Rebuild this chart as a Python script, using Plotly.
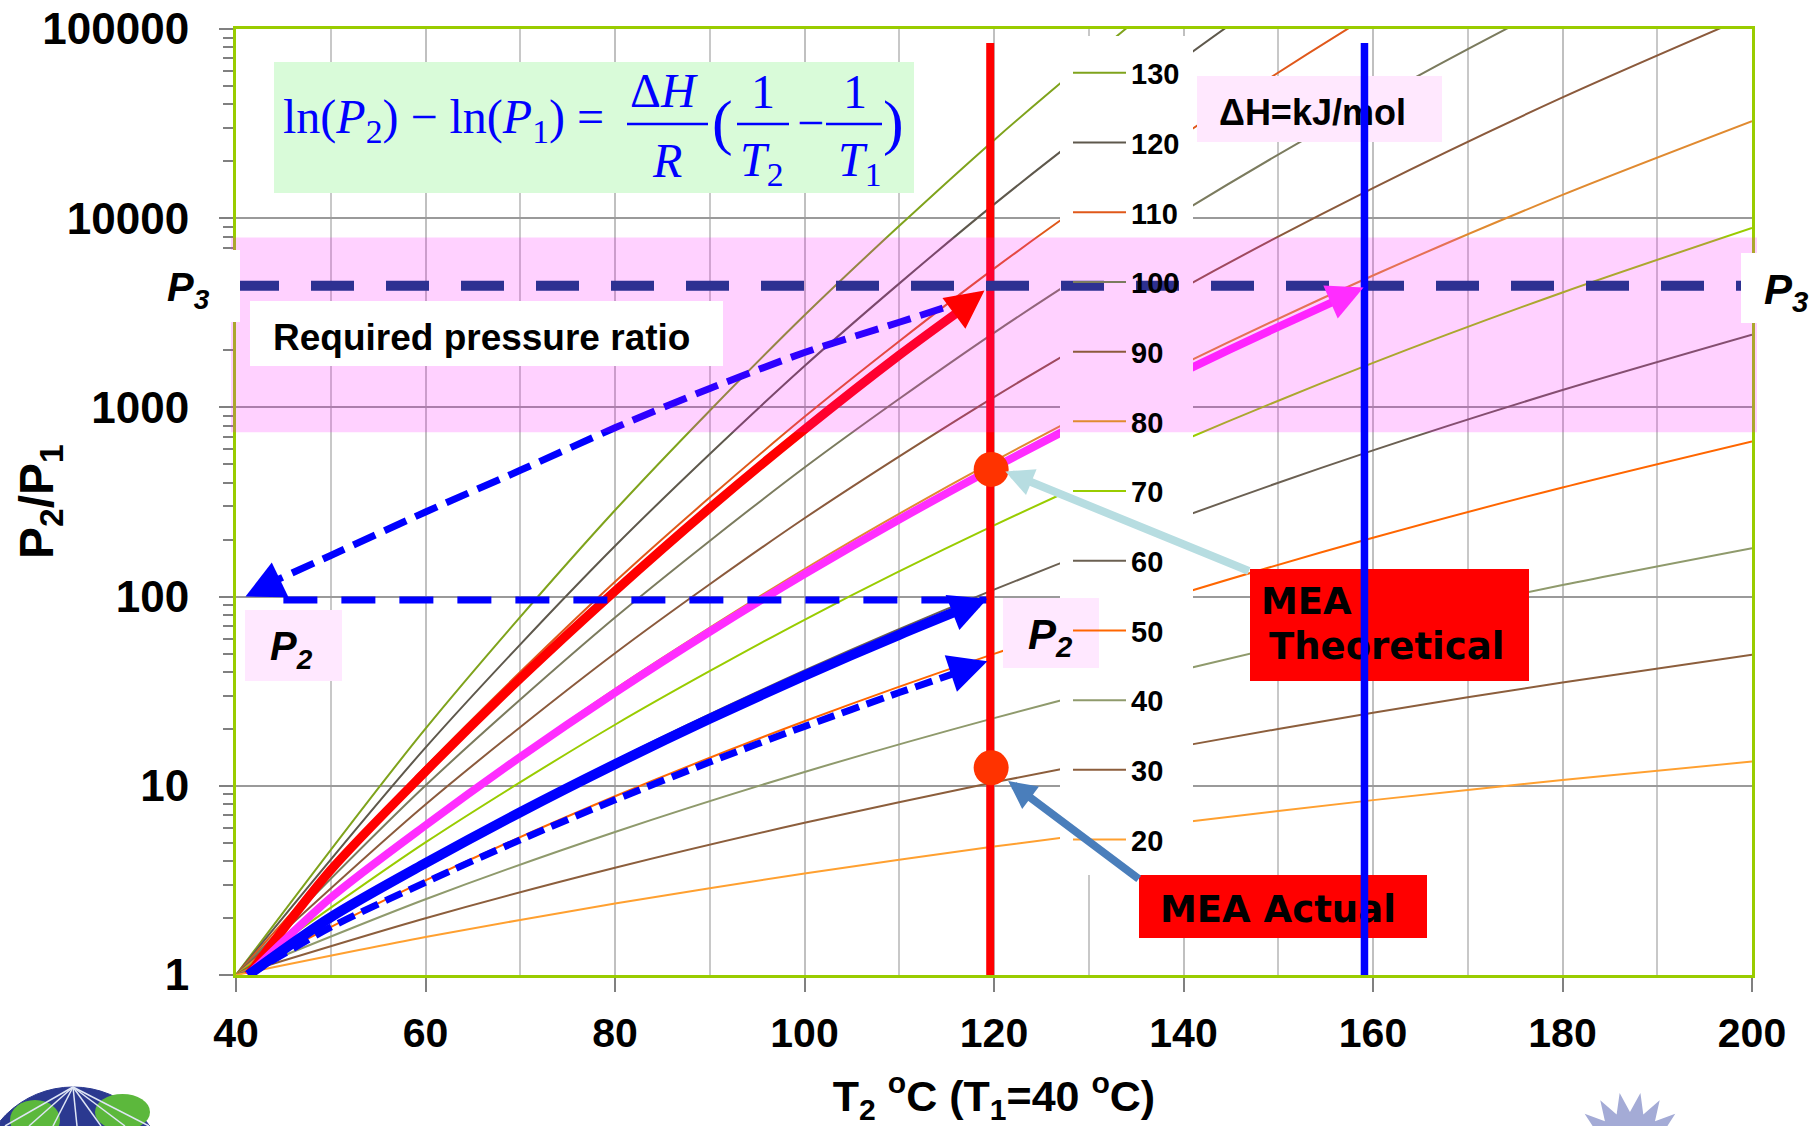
import math
import plotly.graph_objects as go

# ---------------- data ----------------
T_GRID = [40, 60, 80, 100, 120, 140, 160, 180, 200]  # T2 in degC (T1 = 40 degC)

DH_NAMES = ["130", "120", "110", "100", "90", "80", "70", "60", "50", "40", "30", "20"]
DH_130 = [1, 20.04, 285.9, 3068, 25856, 177400, 1018000, 5008000, 21530000]
DH_120 = [1, 15.91, 185.1, 1654, 11834, 69984, 351200, 1529000, 5875000]
DH_110 = [1, 12.63, 119.8, 892.1, 5416, 27618, 121170, 466700, 1603000]
DH_100 = [1, 10.03, 77.52, 481.2, 2479, 10901, 41812, 142430, 437320]
DH_90 = [1, 7.965, 50.17, 259.4, 1134, 4302, 14428, 43475, 119306]
DH_80 = [1, 6.325, 32.47, 139.9, 519.4, 1698, 4977, 13272, 32557]
DH_70 = [1, 5.023, 21.02, 75.43, 237.7, 670.3, 1718, 4051, 8882]
DH_60 = [1, 3.989, 13.60, 40.68, 108.8, 264.5, 592.7, 1236, 2424]
DH_50 = [1, 3.167, 8.805, 21.93, 49.80, 104.4, 204.5, 377.5, 661.4]
DH_40 = [1, 2.515, 5.698, 11.83, 22.79, 41.21, 70.55, 115.2, 180.4]
DH_30 = [1, 1.997, 3.688, 6.377, 10.43, 16.26, 24.34, 35.16, 49.23]
DH_20 = [1, 1.586, 2.387, 3.440, 4.774, 6.42, 8.40, 10.73, 13.43]

# thick arrows
RED_T = [41.3, 50, 60, 70, 80, 90, 100, 110, 117.5]
RED_P = [1, 3.59, 11.9, 36.9, 107, 294, 764, 1889, 3560]
RED_TIP = (119, 4150)
MAG_T = [41.3, 50, 60, 70, 80, 90, 100, 110, 120, 130, 140, 150, 157]
MAG_P = [1, 2.56, 6.18, 14.2, 31.1, 65.2, 131.5, 255.6, 480, 875, 1547, 2666, 3850]
MAG_TIP = (159, 4300)
BLUE_T = [41.3, 50, 60, 70, 80, 90, 100, 110, 117.5]
BLUE_P = [1, 2.02, 3.90, 7.25, 13.0, 22.6, 38.2, 62.8, 89.5]
BLUE_TIP = (119.3, 97.5)
BDASH_T = [41.3, 50, 60, 70, 80, 90, 100, 110, 117.5]
BDASH_P = [1, 1.79, 3.09, 5.18, 8.43, 13.35, 20.6, 31.1, 42.0]
BDASH_TIP = (119.3, 45.5)
CURVE_T = [42.6, 50, 60, 70, 80, 90, 100, 110, 118]
CURVE_P = [112, 165, 280, 465, 780, 1259, 1950, 2818, 3800]
CURVE_TIP = (41.0, 100)
P2_LINE_T = [45, 119.5]
P2_LINE_P = [96, 96]
RED_VLINE_T = [119.6, 119.6]
RED_VLINE_P = [1, 84300]
BLUE_VLINE_T = 159.1
VLINE_TOP = 84300
DOT_T = [119.7, 119.7]
DOT_P = [470, 12.45]
THEO_TIP = (121.2, 458)
ACT_TIP = (121.5, 10.6)
P3_LEVEL = 4400
BAND_LOW, BAND_HIGH = 740, 7900

X_TICKS = [40, 60, 80, 100, 120, 140, 160, 180, 200]
Y_TICKS = [1, 10, 100, 1000, 10000, 100000]
Y_TICKTEXT = ["1", "10", "100", "1000", "10000", "100000"]

# ---------------- styling ----------------
COLORS = {"130": "#7fa31c", "120": "#5e584c", "110": "#e0581a", "100": "#7b7b5e",
          "90": "#8b5a3c", "80": "#e08a30", "70": "#99cc00", "60": "#6b6052",
          "50": "#ff6600", "40": "#8f9a6c", "30": "#8c5e3c", "20": "#ffa030"}
SANS = "Liberation Sans"
SERIF = "Liberation Serif"
HEAVY = "DejaVu Sans"

W, H = 1810, 1126
ML, MR, MT, MB = 236, 58, 29, 151
PW = W - ML - MR
PH = H - MT - MB


def px(X):
    return (X - ML) / PW


def py(Y):
    return (H - MB - Y) / PH


fig = go.Figure()
series = [DH_130, DH_120, DH_110, DH_100, DH_90, DH_80, DH_70, DH_60, DH_50, DH_40, DH_30, DH_20]
for name, vals in zip(DH_NAMES, series):
    fig.add_trace(go.Scatter(x=T_GRID, y=vals, mode="lines", name=name, legendgroup="g" + name,
                             line=dict(color=COLORS[name], width=2, shape="spline", smoothing=0.8),
                             hoverinfo="skip"))


def path(xs, ys, color, width, dash="solid"):
    fig.add_trace(go.Scatter(x=xs, y=ys, mode="lines", showlegend=False, hoverinfo="skip",
                             line=dict(color=color, width=width, dash=dash, shape="spline", smoothing=0.8)))


path(RED_T, RED_P, "#ff0000", 9)
path(MAG_T, MAG_P, "#ff2dff", 8)
path(BLUE_T, BLUE_P, "#0000ff", 10)
path(BDASH_T, BDASH_P, "#0000ff", 7, "18px,8px")
path(CURVE_T, CURVE_P, "#0000ff", 7, "24px,10px")
path(P2_LINE_T, P2_LINE_P, "#0000ff", 7, "34px,24px")
path(RED_VLINE_T, RED_VLINE_P, "#ff0000", 8)
fig.add_trace(go.Scatter(x=DOT_T, y=DOT_P, mode="markers", showlegend=False, hoverinfo="skip",
                         marker=dict(color="#ff3300", size=35, line=dict(width=0))))

shapes = []


def box(x0, y0, x1, y1, fill, text=None, size=37, pos="middle left", pad=3, family=SANS, color="black"):
    d = dict(type="rect", xref="paper", yref="paper", x0=px(x0), x1=px(x1), y0=py(y1), y1=py(y0),
             fillcolor=fill, line=dict(width=0), layer="above")
    if text:
        d["label"] = dict(text=text, textposition=pos, padding=pad,
                          font=dict(family=family, size=size, color=color))
    shapes.append(d)


# legend background (covers curves and grid)
box(1060, 36, 1193, 875, "white")
# equation box
box(274, 62, 914, 193, "#d9fbd9")
for xa, xb in [(627, 708), (737, 789), (826, 882)]:
    shapes.append(dict(type="line", xref="paper", yref="paper", x0=px(xa), x1=px(xb), y0=py(124), y1=py(124),
                       line=dict(color="#0000ff", width=2.5), layer="above"))
# dH units box
box(1197, 76, 1442, 142, "#ffe8fe", "<b>ΔH=kJ/mol</b>", size=36, pad=19)
# required pressure band
shapes.append(dict(type="rect", xref="paper", yref="y", x0=px(231), x1=px(1757), y0=BAND_LOW, y1=BAND_HIGH,
                   fillcolor="rgba(255,0,255,0.18)", line=dict(width=0), layer="above"))
box(250, 301, 723, 366, "white", "<b>Required pressure ratio</b>", size=37, pad=20)
# P3 line
shapes.append(dict(type="line", xref="x", yref="y", x0=40, x1=200, y0=P3_LEVEL, y1=P3_LEVEL,
                   line=dict(color="#2e3192", width=10, dash="43px,32px"), layer="above"))
box(150, 250, 240, 322, "white", "<b><i>P<sub>3</sub></i></b>", size=40, pad=14)
box(1741, 253, 1810, 323, "white", "<b><i>P<sub>3</sub></i></b>", size=42, pad=20)
# P2 labels
box(245, 610, 342, 681, "#ffe8ff", "<b><i>P<sub>2</sub></i></b>", size=40, pad=22)
box(1003, 598, 1099, 668, "#ffe8ff", "<b><i>P<sub>2</sub></i></b>", size=42, pad=22)
# MEA boxes
box(1250, 569, 1529, 681, "#ff0000", "<b>Theoretical</b>", size=37, pos="bottom left", pad=16, family=HEAVY)
box(1250, 569, 1529, 681, "rgba(0,0,0,0)", "<b>MEA</b>", size=37, pos="top left", pad=8, family=HEAVY)
box(1139, 875, 1427, 938, "#ff0000", "<b>MEA Actual</b>", size=37, pad=18, family=HEAVY)
# blue vertical line
shapes.append(dict(type="line", xref="x", yref="y", x0=BLUE_VLINE_T, x1=BLUE_VLINE_T, y0=1, y1=VLINE_TOP,
                   line=dict(color="#0000ff", width=7.5), layer="above"))

# partial logos at the bottom edge (decorative)
shapes.append(dict(type="circle", xref="paper", yref="paper", x0=px(-22), x1=px(168), y0=py(1277), y1=py(1087),
                   fillcolor="#2b3990", line=dict(color="#2b3990", width=1), layer="above"))
for gx0, gy0, gx1, gy1 in [(10, 1100, 60, 1140), (95, 1094, 150, 1130)]:
    shapes.append(dict(type="circle", xref="paper", yref="paper", x0=px(gx0), x1=px(gx1), y0=py(gy1),
                       y1=py(gy0), fillcolor="#5cb83c", line=dict(width=0), layer="above"))
for k in range(7):
    xx = 5 + k * 24
    shapes.append(dict(type="line", xref="paper", yref="paper", x0=px(73), y0=py(1087), x1=px(xx), y1=py(1126),
                       line=dict(color="#dfe6f5", width=1.5), layer="above"))
spikes = []
for k in range(15):
    ang = math.pi * (0.1 + 0.8 * k / 14)
    r = 58 if k % 2 == 0 else 38
    spikes.append((1630 - r * math.cos(ang), 1150 - r * math.sin(ang)))
sun_path = "M " + " L ".join("%.4f,%.4f" % (px(a), py(b)) for a, b in spikes) + " Z"
shapes.append(dict(type="path", xref="paper", yref="paper", path=sun_path, fillcolor="#a4abd6",
                   line=dict(width=0), layer="above"))
shapes.append(dict(type="circle", xref="paper", yref="paper", x0=px(1608), x1=px(1652), y0=py(1170),
                   y1=py(1126), fillcolor="white", line=dict(width=0), layer="above"))

annotations = []


def head(tip, ax, ay, color, width, size, style=2):
    annotations.append(dict(x=tip[0], y=math.log10(tip[1]), xref="x", yref="y", ax=ax, ay=ay,
                            text="", showarrow=True, arrowhead=style, arrowsize=size, arrowwidth=width,
                            arrowcolor=color, standoff=0))


head(RED_TIP, -28, 21, "#ff0000", 9, 0.85)
head(MAG_TIP, -32, 14, "#ff2dff", 8, 0.9)
head(BLUE_TIP, -33, 13, "#0000ff", 10, 0.75)
head(BDASH_TIP, -33, 11, "#0000ff", 7, 1.1)
head(CURVE_TIP, 29, -14, "#0000ff", 7, 1.1)
head(THEO_TIP, 245, 100, "#b7dde1", 8, 0.7)
head(ACT_TIP, 132, 99, "#4a7ebb", 8, 0.7)


def eq(X, Y, text, size=48, anchor="center"):
    annotations.append(dict(x=px(X), y=py(Y), xref="paper", yref="paper", text=text, showarrow=False,
                            xanchor=anchor, yanchor="middle",
                            font=dict(family=SERIF, size=size, color="#0000ff")))


eq(281, 120, "ln(<i>P</i><sub>2</sub>) − ln(<i>P</i><sub>1</sub>) =", anchor="left")
eq(664, 91, "Δ<i>H</i>")
eq(667, 160, "<i>R</i>")
eq(722, 122, "(", size=62)
eq(763, 92, "1")
eq(762, 163, "<i>T</i><sub>2</sub>")
eq(810, 122, "−")
eq(855, 92, "1")
eq(860, 163, "<i>T</i><sub>1</sub>")
eq(893, 122, ")", size=62)

annotations.append(dict(x=px(40), y=0.5, xref="paper", yref="paper", showarrow=False, textangle=-90,
                        xanchor="center", yanchor="middle",
                        text="<b>P<sub>2</sub>/P<sub>1</sub></b>",
                        font=dict(family=SANS, size=48, color="black")))

minor_vals = [m * d for d in Y_TICKS[:-1] for m in range(2, 10)]

fig.update_layout(
    width=W, height=H, margin=dict(l=ML, r=MR, t=MT, b=MB, autoexpand=False),
    paper_bgcolor="white", plot_bgcolor="white",
    shapes=shapes, annotations=annotations,
    legend=dict(x=px(1068), xanchor="left", y=py(47.5), yanchor="top", bgcolor="rgba(0,0,0,0)",
                borderwidth=0, traceorder="grouped", tracegroupgap=29, itemwidth=53,
                font=dict(family=SANS, size=29, color="black", weight="bold")),
    xaxis=dict(range=[40, 200], tickvals=X_TICKS, ticks="outside", ticklen=14, tickwidth=2,
               tickcolor="#808080", showline=True, linecolor="#99cc00", linewidth=3, mirror=True,
               showgrid=True, gridcolor="#c0c0c0", gridwidth=2, zeroline=False, automargin=False,
               minor=dict(dtick=10, tick0=40, showgrid=True, gridcolor="#c8c8c8", gridwidth=2, ticks=""),
               tickfont=dict(family=SANS, size=41, color="black", weight="bold"), ticklabelstandoff=6,
               title=dict(text="<b>T<sub>2</sub> <sup>o</sup>C (T<sub>1</sub>=40 <sup>o</sup>C)</b>",
                          font=dict(family=SANS, size=43, color="black"), standoff=26)),
    yaxis=dict(type="log", range=[0, 5], tickvals=Y_TICKS, ticktext=Y_TICKTEXT, ticks="outside",
               ticklen=14, tickwidth=2, tickcolor="#808080", showline=True, linecolor="#99cc00",
               linewidth=3, mirror=True, showgrid=True, gridcolor="#9a9a9a", gridwidth=2, zeroline=False,
               automargin=False,
               minor=dict(tickvals=minor_vals, ticks="outside", ticklen=10, tickwidth=2,
                          tickcolor="#808080", showgrid=False),
               tickfont=dict(family=SANS, size=44, color="black", weight="bold"), ticklabelstandoff=21),
)

fig.write_html("out.html", config={"displayModeBar": False})
